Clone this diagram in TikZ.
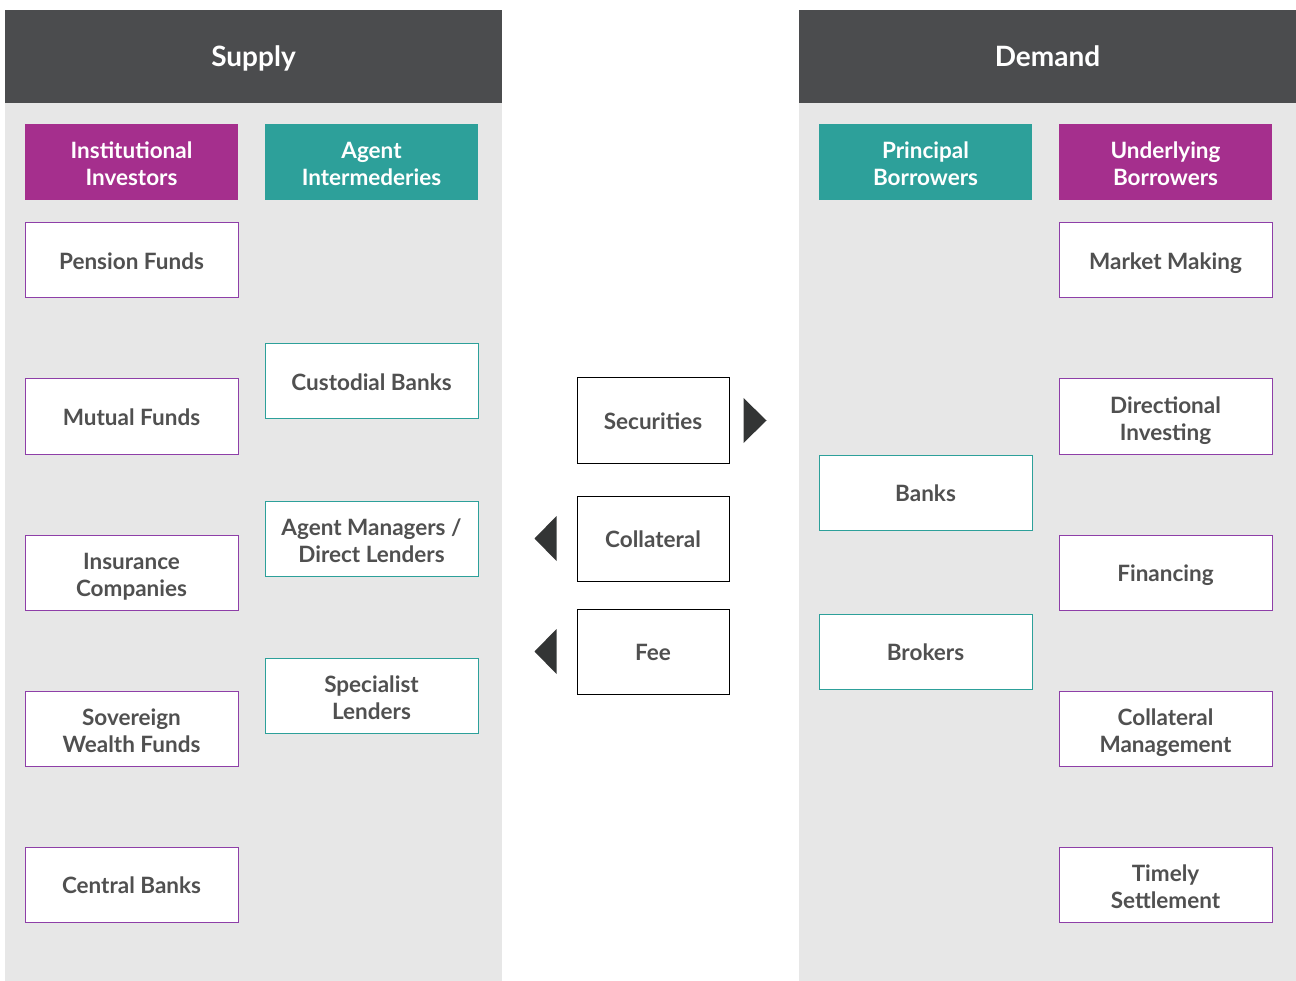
\documentclass[tikz,border=0pt]{standalone}
\usepackage{fontspec}
\setmainfont{Lato}
\usetikzlibrary{positioning}
\definecolor{hdr}{HTML}{4B4C4E}
\definecolor{panel}{HTML}{E7E7E7}
\definecolor{plum}{HTML}{A52F8D}
\definecolor{tealc}{HTML}{2DA09A}
\definecolor{plumline}{HTML}{8E3FA8}
\definecolor{txt}{HTML}{505050}
\definecolor{arr}{HTML}{333535}
\newcommand\topstrut{\rule{0pt}{23pt}}
\newcommand\botstrut{\rule[-5pt]{0pt}{5pt}}
\tikzset{
  x=1pt,y=-1pt,
  box/.style={minimum width=213pt,minimum height=75pt,inner sep=0pt,align=center,font=\fontsize{22.5}{27}\selectfont\bfseries,text=txt,fill=white,line width=1pt,execute at begin node=\topstrut,execute at end node=\botstrut},
  twoline/.style={text height=52pt,text depth=5pt},
  purplebox/.style={box,draw=plumline},
  tealbox/.style={box,draw=tealc},
  midbox/.style={box,draw=black,line width=1pt,minimum width=152pt,minimum height=85pt},
  headfill/.style={box,twoline,text=white,draw=none,minimum height=76pt},
  paneltitle/.style={font=\fontsize{28}{32}\selectfont\bfseries,text=white,anchor=base},
}
\begin{document}
\begin{tikzpicture}
\useasboundingbox (0,0) rectangle (1296,981);
% panels
\fill[panel] (5,10) rectangle (502,981);
\fill[hdr] (5,10) rectangle (502,103);
\fill[panel] (799,10) rectangle (1296,981);
\fill[hdr] (799,10) rectangle (1296,103);
\node[paneltitle] (supply) at (253.5,66.5) {Supply};
\node[paneltitle] (demand) at (1047.5,66.5) {Demand};
% column headers
\node[headfill,fill=plum] (ii) at (131.5,162) {Institutional\\Investors};
\node[headfill,fill=tealc] (ai) at (371.5,162) {Agent\\Intermederies};
\node[headfill,fill=tealc] (pb) at (925.5,162) {Principal\\Borrowers};
\node[headfill,fill=plum] (ub) at (1165.5,162) {Underlying\\Borrowers};
% supply left column
\node[purplebox] (pf) at (131.5,260.5) {Pension Funds};
\node[purplebox] (mf) at (131.5,416.5) {Mutual Funds};
\node[purplebox,twoline] (ic) at (131.5,572.5) {Insurance\\Companies};
\node[purplebox,twoline] (sw) at (131.5,728.5) {Sovereign\\Wealth Funds};
\node[purplebox] (cb) at (131.5,884.5) {Central Banks};
% supply right column
\node[tealbox] (cust) at (371.5,381.5) {Custodial Banks};
\node[tealbox,twoline] (am) at (371.5,538.5) {Agent Managers /\\Direct Lenders};
\node[tealbox,twoline] (sl) at (371.5,695.5) {Specialist\\Lenders};
% demand
\node[tealbox] (banks) at (925.5,492.5) {Banks};
\node[tealbox] (brokers) at (925.5,651.5) {Brokers};
\node[purplebox] (mm) at (1165.5,260.5) {Market Making};
\node[purplebox,twoline] (di) at (1165.5,416.5) {Directional\\Investing};
\node[purplebox] (fin) at (1165.5,572.5) {Financing};
\node[purplebox,twoline] (cm) at (1165.5,728.5) {Collateral\\Management};
\node[purplebox,twoline] (ts) at (1165.5,884.5) {Timely\\Settlement};
% middle
\node[midbox] (sec) at (653,420.5) {Securities};
\node[midbox] (col) at (653,538.5) {Collateral};
\node[midbox] (fee) at (653,651.5) {Fee};
% triangles
\fill[arr] ([xshift=14pt]sec.east) ++(0,-22.5) -- ++(23,22.5) -- ++(-23,22.5) -- cycle;
\fill[arr] ([xshift=-20pt]col.west) ++(0,-22.5) -- ++(-22,22.5) -- ++(22,22.5) -- cycle;
\fill[arr] ([xshift=-20pt]fee.west) ++(0,-22.5) -- ++(-22,22.5) -- ++(22,22.5) -- cycle;
\end{tikzpicture}
\end{document}
